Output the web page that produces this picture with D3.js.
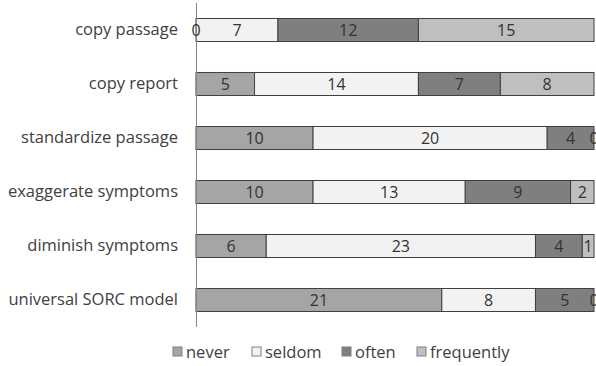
<!DOCTYPE html>
<html>
<head>
<meta charset="utf-8">
<script src="https://cdn.jsdelivr.net/npm/d3@7/dist/d3.min.js"></script>
<style>
  html, body { margin: 0; padding: 0; background: #fff; }
  svg { display: block; font-family: "Open Sans", Lato, sans-serif; }
</style>
</head>
<body>
<svg id="chart" width="596" height="366"></svg>
<script>
// Survey items (top to bottom) and answer counts per frequency level
const categories = ["copy passage", "copy report", "standardize passage",
  "exaggerate symptoms", "diminish symptoms", "universal SORC model"];
const seriesNames = ["never", "seldom", "often", "frequently"];
const never      = [0, 5, 10, 10, 6, 21];
const seldom     = [7, 14, 20, 13, 23, 8];
const often      = [12, 7, 4, 9, 4, 5];
const frequently = [15, 8, 0, 2, 1, 0];
const xMax = 34;

const seriesColors = ["#a5a5a5", "#f2f2f2", "#7f7f7f", "#bfbfbf"];
const font = "'Open Sans', Lato, sans-serif";

const rows = categories.map((c, i) => ({
  category: c,
  never: never[i], seldom: seldom[i], often: often[i], frequently: frequently[i]
}));

const svg = d3.select("#chart");
const plotLeft = 196, plotRight = 594, plotTop = 3, plotBottom = 327;

const x = d3.scaleLinear().domain([0, xMax]).range([plotLeft, plotRight]);
const pad = 0.574;
const y = d3.scaleBand().domain(categories).range([plotTop, plotBottom])
  .paddingInner(pad).paddingOuter(pad / 2);

const stacked = d3.stack().keys(seriesNames)(rows);
const segments = stacked.flatMap((s, i) => s.map(v => ({ v, key: s.key, i })));

// bars
svg.append("g").selectAll("rect").data(segments)
  .join("rect")
  .attr("x", d => x(d.v[0]))
  .attr("y", d => y(d.v.data.category))
  .attr("width", d => x(d.v[1]) - x(d.v[0]))
  .attr("height", y.bandwidth())
  .attr("fill", d => seriesColors[d.i])
  .attr("stroke", "#404040")
  .attr("stroke-width", 1);

// category axis
const yAxis = svg.append("g")
  .attr("transform", `translate(${plotLeft},0)`)
  .call(d3.axisLeft(y).tickSize(0).tickPadding(18));
yAxis.select(".domain").attr("stroke", "#868686").attr("d", `M0.5,${plotTop}V${plotBottom}`);
yAxis.selectAll("text").attr("font-size", 16.5).attr("fill", "#404040")
  .attr("font-family", font);

// value labels centred in each segment
svg.append("g").selectAll("text").data(segments)
  .join("text")
  .attr("x", d => (x(d.v[0]) + x(d.v[1])) / 2)
  .attr("y", d => y(d.v.data.category) + y.bandwidth() / 2)
  .attr("dy", "0.36em")
  .attr("text-anchor", "middle")
  .attr("font-size", 16)
  .attr("fill", "#333")
  .text(d => d.v.data[d.key]);

// legend
const legendX = [173, 252, 342, 417];
const legend = svg.append("g").selectAll("g").data(seriesNames).join("g")
  .attr("transform", (d, i) => `translate(${legendX[i]},352)`);
legend.append("rect")
  .attr("x", 0).attr("y", -5).attr("width", 9).attr("height", 9)
  .attr("fill", (d, i) => seriesColors[i])
  .attr("stroke", "#7f7f7f");
legend.append("text")
  .attr("x", 13).attr("y", 0).attr("dy", "0.36em")
  .attr("font-size", 16.5).attr("fill", "#404040")
  .text(d => d);
</script>
</body>
</html>
